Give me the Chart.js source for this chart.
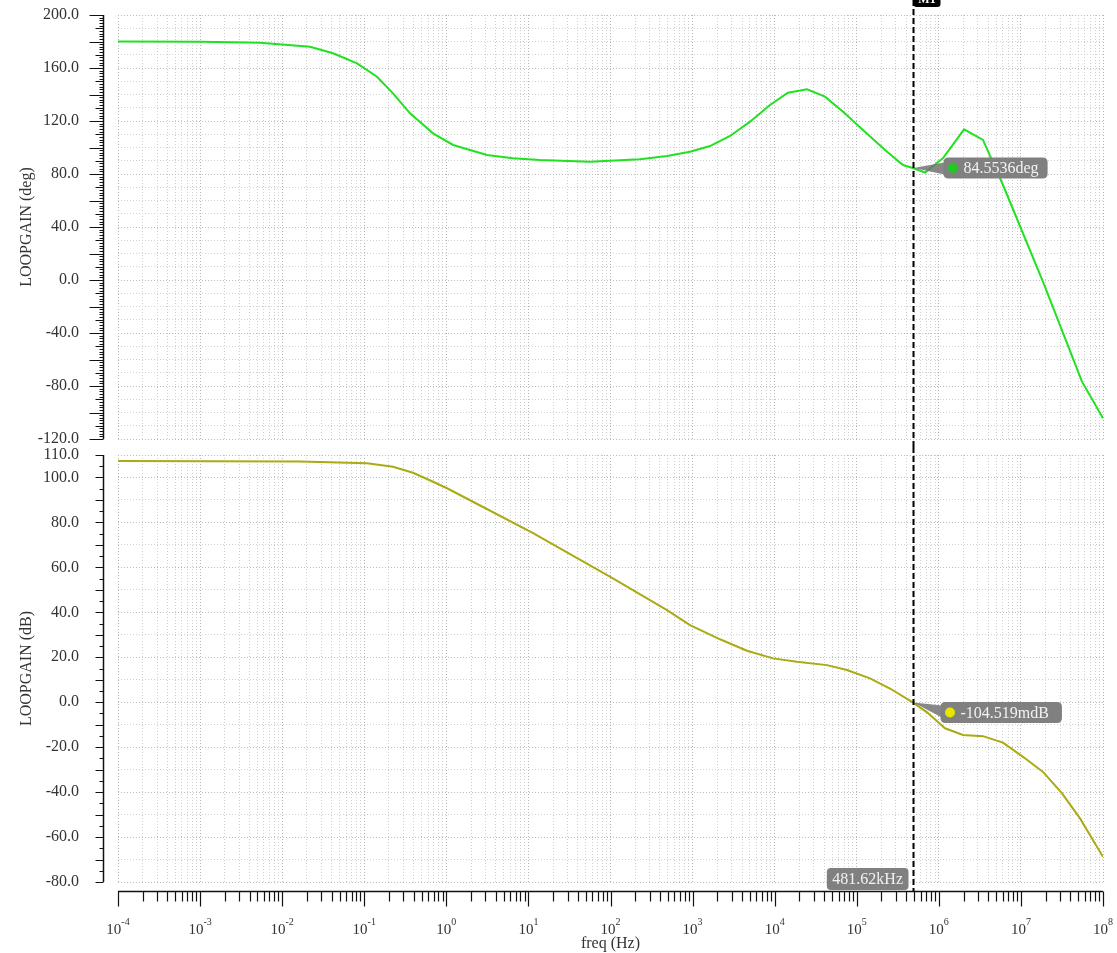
<!DOCTYPE html>
<html>
<head>
<meta charset="utf-8">
<script src="https://cdn.jsdelivr.net/npm/chart.js@4.4.1/dist/chart.umd.min.js"></script>
<style>
body { margin: 0; background: #fff; }
#wrap { position: relative; width: 1117px; height: 953px; }
#phase { position: absolute; left: 0; top: 0; }
#gain { position: absolute; left: 0; top: 447px; }
</style>
</head>
<body>
<div id="wrap">
<canvas id="phase" width="1117" height="447"></canvas>
<canvas id="gain" width="1117" height="506"></canvas>
</div>
<script>
// phase of loop gain (deg)
const phaseFreq = [1e-4, 1e-3, 5.4e-3, 0.0218, 0.0416, 0.0817, 0.143, 0.224, 0.361, 0.689, 1.21, 3.13, 6.49, 13.8, 56.2, 229, 488, 931, 1630, 2860, 5010, 8770, 14500, 24800, 41000, 68100, 119000, 234000, 366000, 481620, 679000, 1.12e6, 2.03e6, 3.45e6, 6.05e6, 1.86e7, 5.55e7, 1e8];
const phaseDeg = [180.0, 179.8, 179.1, 176.1, 171.1, 163.5, 153.4, 140.9, 125.8, 110.7, 101.9, 94.3, 91.8, 90.6, 89.3, 91.1, 93.6, 96.8, 101.1, 108.7, 119.5, 132.1, 141.4, 143.9, 138.4, 127.0, 113.2, 96.8, 86.8, 84.55, 81.1, 91.8, 113.7, 105.7, 71.7, -1.5, -76.7, -104.4];

// magnitude of loop gain (dB)
const gainFreq = [1e-4, 0.0165, 0.108, 0.224, 0.393, 0.689, 1.02, 2.11, 11.4, 107, 488, 931, 2160, 4600, 9550, 18700, 43400, 76000, 145000, 254000, 481620, 718000, 1.19e6, 1.97e6, 3.45e6, 6.05e6, 1.06e7, 1.86e7, 3.17e7, 5.25e7, 1e8];
const gainDb = [107.3, 107.1, 106.3, 104.8, 102.1, 98.1, 95.2, 89.2, 75.2, 55.1, 41.0, 34.3, 28.0, 22.9, 19.5, 18.0, 16.5, 14.3, 10.6, 6.1, -0.1, -4.5, -11.6, -14.6, -15.1, -18.0, -24.3, -31.0, -40.6, -51.7, -68.8];

// axes
const decades = [-4, -3, -2, -1, 0, 1, 2, 3, 4, 5, 6, 7, 8];
const decadeExponents = ['-4', '-3', '-2', '-1', '0', '1', '2', '3', '4', '5', '6', '7', '8'];
const minorSteps = [1, 2, 3, 4, 5, 6, 7, 8, 9];
const phaseTickLabels = [200, 160, 120, 80, 40, 0, -40, -80, -120];
const gainTickLabels = [110, 100, 80, 60, 40, 20, 0, -20, -40, -60, -80];

// cursor
const cursorFreq = 481620;
const cursorPhase = 84.5536;
const cursorGain = -0.104519;
const cursorFreqText = '481.62kHz';
const cursorPhaseText = '84.5536deg';
const cursorGainText = '-104.519mdB';

const FONT = '"Liberation Serif", "DejaVu Serif", serif';
Chart.defaults.font.family = FONT;
Chart.defaults.font.size = 16;
Chart.defaults.color = '#333';

function noPad(s) {
  s.paddingLeft = 0; s.paddingRight = 0; s.paddingTop = 0; s.paddingBottom = 0;
}

function xScale(showTitle) {
  return {
    type: 'logarithmic',
    min: 1e-4,
    max: 1e8,
    afterBuildTicks: (s) => {
      const t = [];
      decades.forEach((d, di) => minorSteps.forEach(m => {
        if (d === 8 && m > 1) return;
        t.push({ value: m * Math.pow(10, d), decade: m === 1, di: di });
      }));
      s.ticks = t;
    },
    afterFit: (s) => { s.height = showTitle ? 71 : 0; noPad(s); },
    grid: {
      drawTicks: false,
      color: (c) => (c.tick && c.tick.decade) ? '#b4b4b4' : '#cfcfcf'
    },
    border: { display: false, dash: [1, 2] },
    // decade labels with raised exponents are drawn by axisMarks
    ticks: { display: false, autoSkip: false },
    title: {
      display: showTitle,
      text: 'freq (Hz)',
      font: { size: 16 },
      padding: { top: 0, bottom: 0 }
    }
  };
}

function yScale(min, max, labels, title) {
  return {
    min: min,
    max: max,
    afterBuildTicks: (s) => {
      const t = [];
      for (let v = min; v <= max; v += 10) t.push({ value: v });
      s.ticks = t;
    },
    afterFit: (s) => { s.width = 118; noPad(s); },
    grid: {
      drawTicks: false,
      color: (c) => (c.tick && labels.includes(c.tick.value)) ? '#bdbdbd' : '#d2d2d2'
    },
    border: { display: false, dash: [1, 2] },
    ticks: {
      autoSkip: false,
      padding: 39,
      callback: (v) => labels.includes(v) ? v.toFixed(1) : ''
    },
    title: {
      display: true,
      text: title,
      padding: { top: 17, bottom: 0 }
    }
  };
}

// axis lines and tick marks, drawn off the plot area like the original tool does
const axisMarks = {
  id: 'axisMarks',
  afterDraw(chart, args, opts) {
    const ctx = chart.ctx;
    const area = chart.chartArea;
    const y = chart.scales.y;
    const ax = area.left - 14.5;
    ctx.save();
    ctx.strokeStyle = '#111';
    ctx.lineWidth = 1.5;
    ctx.beginPath();
    ctx.moveTo(ax, area.top);
    ctx.lineTo(ax, area.bottom);
    ctx.stroke();
    ctx.lineWidth = 1;
    for (let v = y.min; v <= y.max; v += opts.minorStep) {
      const py = Math.round(y.getPixelForValue(v)) + 0.5;
      let len = opts.shortLen;
      if (v % opts.longStep === 0) len = opts.longLen;
      else if (v % opts.midStep === 0) len = opts.midLen;
      ctx.beginPath();
      ctx.moveTo(ax - len, py);
      ctx.lineTo(ax, py);
      ctx.stroke();
    }
    if (opts.xAxis) {
      const x = chart.scales.x;
      const ay = area.bottom + 9.5;
      ctx.lineWidth = 1.5;
      ctx.beginPath();
      ctx.moveTo(area.left, ay);
      ctx.lineTo(area.right, ay);
      ctx.stroke();
      ctx.lineWidth = 1.2;
      x.ticks.forEach(t => {
        const px = Math.round(x.getPixelForValue(t.value)) + 0.5;
        ctx.beginPath();
        ctx.moveTo(px, ay);
        ctx.lineTo(px, ay + (t.decade ? 15 : 10));
        ctx.stroke();
      });
      // decade labels: "10" with a small raised exponent
      const base = area.bottom + 52;
      ctx.fillStyle = '#333';
      ctx.textBaseline = 'alphabetic';
      ctx.textAlign = 'left';
      x.ticks.filter(t => t.decade).forEach(t => {
        const px = x.getPixelForValue(t.value);
        const exp = decadeExponents[t.di];
        ctx.font = '15px ' + FONT;
        const w1 = ctx.measureText('10').width;
        ctx.font = '10px ' + FONT;
        const w2 = ctx.measureText(exp).width;
        const left = px - (w1 + w2) / 2;
        ctx.font = '15px ' + FONT;
        ctx.fillText('10', left, base);
        ctx.font = '10px ' + FONT;
        ctx.fillText(exp, left + w1, base - 9);
      });
    }
    ctx.restore();
  }
};

function roundRect(ctx, x, y, w, h, r) {
  ctx.beginPath();
  ctx.moveTo(x + r, y);
  ctx.lineTo(x + w - r, y);
  ctx.quadraticCurveTo(x + w, y, x + w, y + r);
  ctx.lineTo(x + w, y + h - r);
  ctx.quadraticCurveTo(x + w, y + h, x + w - r, y + h);
  ctx.lineTo(x + r, y + h);
  ctx.quadraticCurveTo(x, y + h, x, y + h - r);
  ctx.lineTo(x, y + r);
  ctx.quadraticCurveTo(x, y, x + r, y);
  ctx.closePath();
}

// dashed cursor with the value bubbles
const cursor = {
  id: 'cursor',
  afterDraw(chart, args, opts) {
    const ctx = chart.ctx;
    const area = chart.chartArea;
    const x = chart.scales.x, y = chart.scales.y;
    const px = Math.round(x.getPixelForValue(cursorFreq)) + 0.5;
    ctx.save();
    ctx.strokeStyle = '#000';
    ctx.lineWidth = 2;
    ctx.setLineDash([6, 3]);
    ctx.beginPath();
    ctx.moveTo(px, 0);
    ctx.lineTo(px, opts.toAxis ? area.bottom + 9 : chart.height);
    ctx.stroke();
    ctx.setLineDash([]);

    const tipY = y.getPixelForValue(opts.value);
    ctx.font = '16px ' + FONT;
    const tw = ctx.measureText(opts.text).width;
    const bx = px + opts.dx, by = tipY + opts.dy - 10.5, bh = 21;
    const bw = tw + opts.extraW;
    ctx.fillStyle = 'rgba(115,115,115,0.85)';
    ctx.beginPath();
    ctx.moveTo(px, tipY);
    ctx.lineTo(bx + 6, by + 4);
    ctx.lineTo(bx + 6, by + bh - 3);
    ctx.closePath();
    ctx.fill();
    ctx.fillStyle = '#808080';
    roundRect(ctx, bx, by, bw, bh, 5);
    ctx.fill();
    ctx.fillStyle = opts.dotColor;
    ctx.beginPath();
    ctx.arc(bx + 9.5, by + bh / 2, 5, 0, Math.PI * 2);
    ctx.fill();
    ctx.fillStyle = '#f2f2f2';
    ctx.textBaseline = 'middle';
    ctx.textAlign = 'left';
    ctx.fillText(opts.text, bx + 20, by + bh / 2 + 1);

    if (opts.toAxis) {
      const fw = ctx.measureText(cursorFreqText).width + 11;
      ctx.fillStyle = '#808080';
      roundRect(ctx, px - 5 - fw, area.bottom - 14, fw, 22, 4);
      ctx.fill();
      ctx.fillStyle = '#f2f2f2';
      ctx.textAlign = 'center';
      ctx.fillText(cursorFreqText, px - 5 - fw / 2, area.bottom - 2);
    } else {
      ctx.fillStyle = '#000';
      roundRect(ctx, px, -12, 27, 19, 3);
      ctx.fill();
      ctx.fillStyle = '#fff';
      ctx.font = 'bold 12px ' + FONT;
      ctx.textAlign = 'center';
      ctx.textBaseline = 'alphabetic';
      ctx.fillText('M1', px + 13.5, 3);
    }
    ctx.restore();
  }
};

function makeChart(id, freq, vals, color, xOpts, yOpts, padding, marks, cur) {
  new Chart(document.getElementById(id), {
    type: 'line',
    data: {
      datasets: [{
        data: freq.map((f, i) => ({ x: f, y: vals[i] })),
        borderColor: color,
        borderWidth: 2,
        pointRadius: 0,
        tension: 0,
        fill: false
      }]
    },
    options: {
      responsive: false,
      animation: false,
      events: [],
      layout: { padding: padding },
      scales: { x: xOpts, y: yOpts },
      plugins: {
        legend: { display: false },
        tooltip: { enabled: false },
        axisMarks: marks,
        cursor: cur
      }
    },
    plugins: [axisMarks, cursor]
  });
}

makeChart('phase', phaseFreq, phaseDeg, 'rgb(34,224,34)',
  xScale(false), yScale(-120, 200, phaseTickLabels, 'LOOPGAIN (deg)'),
  { top: 15, bottom: 8, left: 0, right: 14 },
  { minorStep: 2, midStep: 10, longStep: 20, shortLen: 4, midLen: 8, longLen: 14, xAxis: false },
  { value: cursorPhase, text: cursorPhaseText, dotColor: 'rgb(34,200,34)', dx: 30, dy: 0, extraW: 29, toAxis: false });

makeChart('gain', gainFreq, gainDb, 'rgb(170,170,20)',
  xScale(true), yScale(-80, 110, gainTickLabels, 'LOOPGAIN (dB)'),
  { top: 8, bottom: 0, left: 0, right: 14 },
  { minorStep: 5, midStep: 10, longStep: 10, shortLen: 4, midLen: 8, longLen: 8, xAxis: true },
  { value: cursorGain, text: cursorGainText, dotColor: 'rgb(230,230,0)', dx: 27, dy: 10, extraW: 33, toAxis: true });
</script>
</body>
</html>
